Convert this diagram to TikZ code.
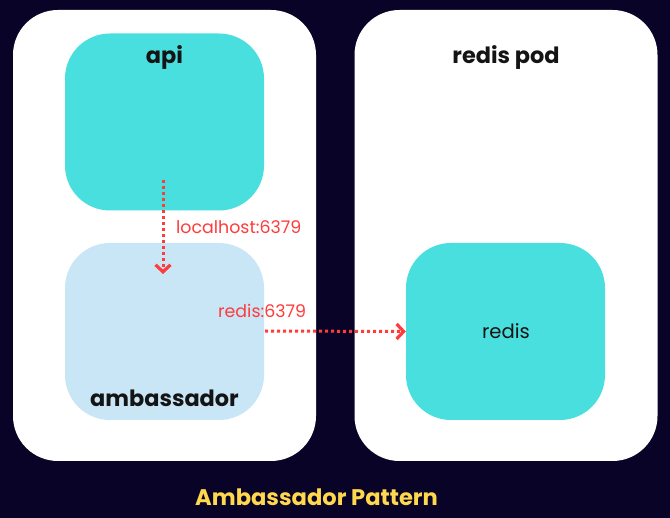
\documentclass[tikz,border=0pt]{standalone}
\usepackage{fontspec}
\setmainfont{Poppins}
\usetikzlibrary{arrows.meta}
\definecolor{bgnavy}{HTML}{0A0328}
\definecolor{turq}{HTML}{4ADFDF}
\definecolor{lblue}{HTML}{C9E6F6}
\definecolor{redline}{HTML}{FF3B3B}
\definecolor{titleyellow}{HTML}{FFD84D}
\tikzset{
  pod/.style={fill=white, draw=none, rounded corners=45, minimum width=303, minimum height=451, inner sep=0},
  container/.style={draw=none, rounded corners=45, minimum width=199, minimum height=177, inner sep=0},
  boldlabel/.style={font=\fontsize{22.4}{26}\selectfont\bfseries, text=black!92},
  plainlabel/.style={font=\fontsize{19.6}{23}\selectfont, text=black!92},
  conn/.style={draw=redline, line width=3, dash pattern=on 3 off 3, -{Straight Barb[length=7,width=15,line width=3.2]}},
  connlabel/.style={font=\fontsize{17.4}{20}\selectfont, text=redline}
}
\begin{document}
\begin{tikzpicture}[x=1pt,y=-1pt]
\fill[bgnavy] (0,0) rectangle (670,518);
\useasboundingbox (0,0) rectangle (670,518);
\node[pod] (leftpod) at (164.5,235.5) {};
\node[pod] (rightpod) at (506,235.5) {};
\node[container, fill=turq] (api) at (164.5,122) {};
\node[container, fill=lblue] (amb) at (164.5,331.5) {};
\node[container, fill=turq] (redis) at (505.5,331.5) {};
\node[boldlabel] (apilabel) at (164.5,58) {api};
\node[boldlabel] (amblabel) at (164.5,398) {ambassador};
\node[boldlabel] (podlabel) at (506,58) {redis pod};
\node[plainlabel] (redislabel) at (506,331) {redis};
\coordinate (a1s) at (163,180);
\coordinate (a1e) at (163,274);
\draw[conn] (a1s) -- (a1e);
\node[connlabel, anchor=west, inner sep=0] (l1) at (176,227) {localhost:6379};
\coordinate (a2s) at (265,331);
\draw[conn] (a2s) -- (redis.west);
\node[connlabel, anchor=west, inner sep=0] (l2) at (218,311) {redis:6379};
\node[font=\fontsize{22.6}{26}\selectfont\bfseries, text=titleyellow] (title) at (316.5,497) {Ambassador Pattern};
\end{tikzpicture}
\end{document}
